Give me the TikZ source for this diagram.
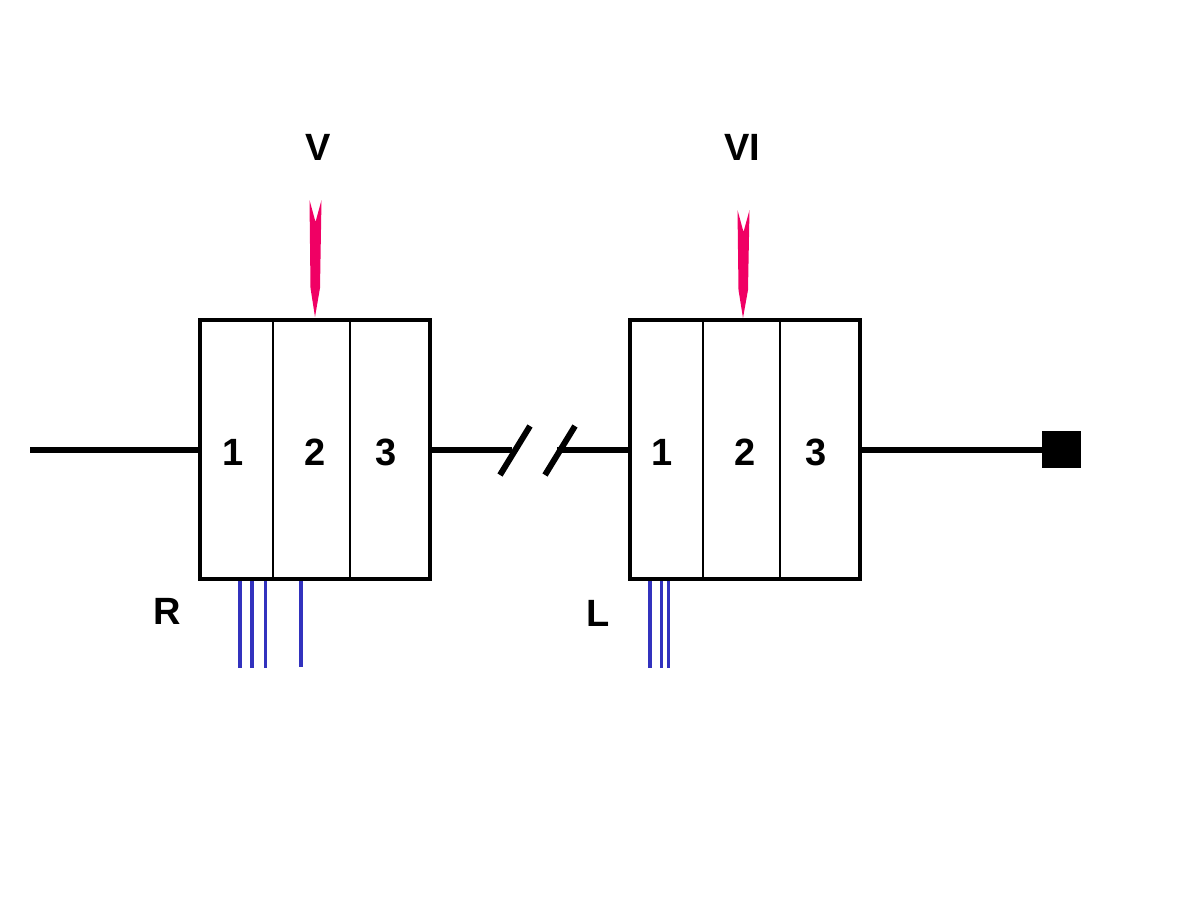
\documentclass[tikz,border=0pt]{standalone}
\usepackage{fontspec}
\setmainfont{Liberation Sans}
\definecolor{arrpink}{RGB}{240,0,100}
\definecolor{wireblue}{RGB}{50,50,190}
\begin{document}
\begin{tikzpicture}[x=1pt,y=-1pt,
  box/.style={draw,line width=4.5pt,fill=white,outer sep=0pt,inner sep=0pt,
    minimum width=230pt,minimum height=259pt,anchor=north west},
  divider/.style={line width=1.2pt},
  wire/.style={line width=6pt},
  lbl/.style={font=\fontsize{38}{40}\selectfont\bfseries,inner sep=0pt},
  lead/.style={draw=wireblue,line width=3.5pt},
  pinkarrow/.style={fill=arrpink,draw=none}]
\useasboundingbox (0,0) rectangle (1200,900);
% main line pieces
\coordinate (start) at (30,450);
\coordinate (b1a) at (512,450);
\coordinate (b2a) at (557,450);
% boxes
\node[box] (box1) at (200,320) {};
\node[box] (box2) at (630,320) {};
\node[fill=black,minimum width=39pt,minimum height=37pt,inner sep=0pt,outer sep=0pt] (term) at (1061.5,449.5) {};
% wires
\draw[wire] (start) -- (start -| box1.west);
\draw[wire] (start -| box1.east) -- (b1a);
\draw[wire] (b2a) -- (start -| box2.west);
\draw[wire] (start -| box2.east) -- (start -| term.west);
% break slashes
\coordinate (s1a) at (500,475); \coordinate (s1b) at (530,426);
\coordinate (s2a) at (545,475); \coordinate (s2b) at (575,426);
\draw[wire] (s1a) -- (s1b);
\draw[wire] (s2a) -- (s2b);
% dividers
\draw[divider] (273,320) -- (273,579);
\draw[divider] (350,320) -- (350,579);
\draw[divider] (703,320) -- (703,579);
\draw[divider] (780,320) -- (780,579);
% numbers
\node[lbl] (n11) at (233,452) {1};
\node[lbl] (n12) at (315,452) {2};
\node[lbl] (n13) at (386,452) {3};
\node[lbl] (n21) at (662,452) {1};
\node[lbl] (n22) at (745,452) {2};
\node[lbl] (n23) at (816,452) {3};
% labels
\node[lbl] (V) at (318,147) {V};
\node[lbl] (VI) at (742,147) {VI};
\node[lbl] (R) at (167,611) {R};
\node[lbl] (L) at (598,613) {L};
% pink arrows
\fill[pinkarrow] (309.5,200) -- (315.5,222) -- (321.5,200) -- (320,288) -- (315,317) -- (310.5,288) -- cycle;
\fill[pinkarrow] (737.5,210) -- (743.5,232) -- (749.5,210) -- (748,290) -- (743,318) -- (738.5,290) -- cycle;
% blue leads
\draw[lead] (240,581) -- (240,668);
\draw[lead] (252,581) -- (252,668);
\draw[lead] (265.5,581) -- (265.5,668);
\draw[lead] (301,581) -- (301,667);
\draw[lead] (650,581) -- (650,668);
\draw[lead] (661.5,581) -- (661.5,668);
\draw[lead] (668.5,581) -- (668.5,668);
\end{tikzpicture}
\end{document}
